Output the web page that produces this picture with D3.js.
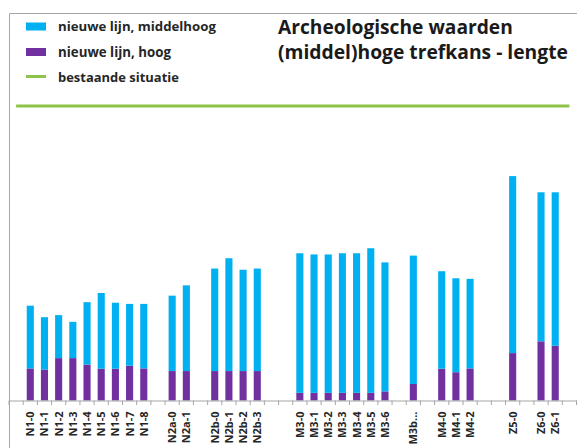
<!DOCTYPE html>
<html><head><meta charset="utf-8">
<script src="https://cdn.jsdelivr.net/npm/d3@7"></script>
<style>body{margin:0;background:#fff;} svg{display:block;font-family:'Open Sans',Lato,sans-serif;}</style>
</head><body><svg id="c" width="577" height="448"></svg>
<script>
const categories = ["", "N1-0","N1-1","N1-2","N1-3","N1-4","N1-5","N1-6","N1-7","N1-8", "",
  "N2a-0","N2a-1", "", "N2b-0","N2b-1","N2b-2","N2b-3", "", "",
  "M3-0","M3-1","M3-2","M3-3","M3-4","M3-5","M3-6", "", "M3b...", "",
  "M4-0","M4-1","M4-2", "", "", "Z5-0", "", "Z6-0","Z6-1", ""];
const hoog = [null, 10.9,10.5,14.4,14.4,12.2,10.8,10.8,11.8,10.9, null,
  10.0,10.0, null, 10.0,10.0,10.0,10.0, null,null,
  2.6,2.6,2.6,2.6,2.6,2.6,3.1, null, 5.6, null,
  10.8,9.6,10.9, null,null, 16.1, null, 20.1,18.6, null];
const middelhoog = [null, 21.3,17.8,14.6,12.3,21.2,25.7,22.4,21.0,21.9, null,
  25.6,29.1, null, 34.8,38.3,34.4,34.8, null,null,
  47.4,47.0,47.0,47.4,47.4,49.1,43.8, null, 43.6, null,
  33.1,31.9,30.4, null,null, 60.1, null, 50.6,52.1, null];
const bestaande = [100,100,100,100,100,100,100,100,100,100,100,100,100,100,100,100,100,100,100,100,
  100,100,100,100,100,100,100,100,100,100,100,100,100,100,100,100,100,100,100,100];
const seriesNames = ["nieuwe lijn, middelhoog","nieuwe lijn, hoog","bestaande situatie"];
const titleLines = ["Archeologische waarden","(middel)hoge trefkans - lengte"];

const colors = {hoog:"#7030A0", middelhoog:"#00B0F0", bestaande:"#8DC447"};
const svg = d3.select("#c");
const keys = categories.map((c,i)=>"k"+i);
const rows = keys.map((k,i)=>({key:k, hoog:hoog[i]||0, middelhoog:middelhoog[i]||0}));

const x = d3.scaleBand().domain(keys).range([9, 576.5]).paddingInner(0).paddingOuter(0);
const y = d3.scaleLinear().domain([0,100]).range([400.5,106]);

function fit(sel, target){ const w = sel.node().getComputedTextLength(); const fs = parseFloat(sel.attr("font-size")); sel.attr("font-size", fs*target/w); }

// frame
svg.append("path").attr("d","M9.5,448V13.5H577").attr("fill","none").attr("stroke","#a6a6a6").attr("stroke-width",1);

// bars
const stack = d3.stack().keys(["hoog","middelhoog"])(rows);
const bw = x.bandwidth()*0.5;
svg.append("g").selectAll("g").data(stack).join("g")
  .attr("fill", d=>colors[d.key])
  .selectAll("rect").data(d=>d.filter(p=>p[1]-p[0]>0)).join("rect")
  .attr("x", d=>x(d.data.key)+(x.bandwidth()-bw)/2)
  .attr("width", bw)
  .attr("y", d=>y(d[1]))
  .attr("height", d=>y(d[0])-y(d[1]));

// axis
const ax = svg.append("g").attr("transform","translate(0,400.5)")
  .call(d3.axisBottom(x).tickSize(0).tickSizeOuter(0).tickFormat((k,i)=>categories[i]));
ax.select(".domain").attr("stroke","#a6a6a6");
ax.selectAll(".tick text")
  .attr("transform","rotate(-90)").attr("x",-11).attr("y",0).attr("dy","0.36em")
  .attr("text-anchor","end").attr("font-size",11).attr("font-weight","bold")
  .attr("fill","#262626").attr("font-family","'Open Sans',Lato,sans-serif");
svg.append("g").selectAll("line").data(keys.concat(["end"])).join("line")
  .attr("x1", k=>k==="end"? x.range()[1] : x(k)).attr("x2", k=>k==="end"? x.range()[1] : x(k))
  .attr("y1",400.5).attr("y2",405).attr("stroke","#a6a6a6");

// existing situation line
svg.append("path").datum(bestaande)
  .attr("fill","none").attr("stroke",colors.bestaande).attr("stroke-width",3)
  .attr("d", d3.line().x((d,i)=>x(keys[i])+x.bandwidth()/2).y(d=>y(d)));

// legend
const lg = svg.append("g").attr("font-weight","bold").attr("fill","#262626");
lg.append("rect").attr("x",26).attr("y",22.5).attr("width",20).attr("height",8).attr("fill",colors.middelhoog);
lg.append("rect").attr("x",26).attr("y",48).attr("width",20).attr("height",8).attr("fill",colors.hoog);
lg.append("line").attr("x1",26).attr("x2",46).attr("y1",76.5).attr("y2",76.5).attr("stroke",colors.bestaande).attr("stroke-width",3);
fit(lg.append("text").attr("x",58).attr("y",31).attr("font-size",12).text(seriesNames[0]), 158);
fit(lg.append("text").attr("x",58).attr("y",56.5).attr("font-size",12).text(seriesNames[1]), 113);
fit(lg.append("text").attr("x",58).attr("y",81.5).attr("font-size",12).text(seriesNames[2]), 121);

// title
const tt = svg.append("g").attr("font-weight","bold").attr("fill","#1a1a1a");
fit(tt.append("text").attr("x",278).attr("y",33.5).attr("font-size",17).text(titleLines[0]), 235);
fit(tt.append("text").attr("x",278).attr("y",58.5).attr("font-size",17).text(titleLines[1]), 290);
</script></body></html>
